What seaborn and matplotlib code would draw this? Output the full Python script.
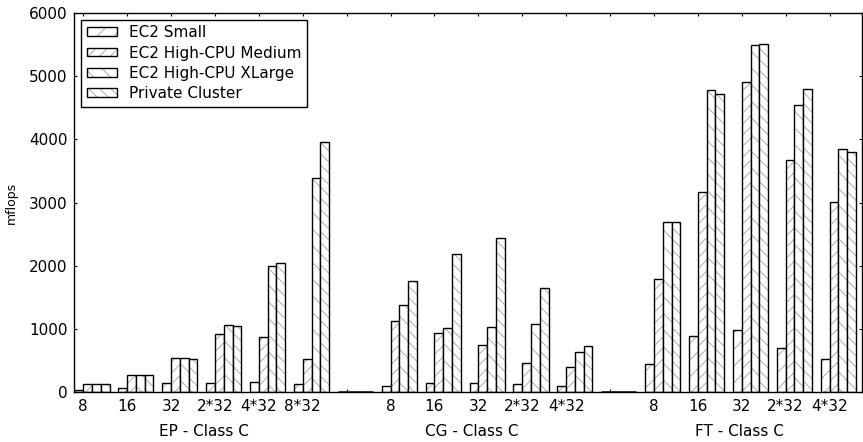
import pandas as pd
import matplotlib
matplotlib.use("Agg")
import matplotlib.pyplot as plt
import matplotlib.colors as mcolors
import matplotlib.transforms as mtransforms
import seaborn as sns

platforms = ["EC2 Small", "EC2 High-CPU Medium", "EC2 High-CPU XLarge", "Private Cluster"]
hatches = ["//", "///", "\\\\", "\\\\\\"]
benchmarks = ["EP - Class C", "CG - Class C", "FT - Class C"]

procs_ep = ["8", "16", "32", "2*32", "4*32", "8*32"]
procs_cg = ["8", "16", "32", "2*32", "4*32"]
procs_ft = ["8", "16", "32", "2*32", "4*32"]

# mflops per platform
small_ep = [30, 69, 142, 142, 164, 132]
medium_ep = [132, 274, 544, 918, 871, 528]
xlarge_ep = [132, 264, 538, 1055, 2000, 3381]
private_ep = [132, 264, 528, 1050, 2047, 3961]

small_cg = [90, 142, 137, 121, 100]
medium_cg = [1119, 939, 739, 454, 401]
xlarge_cg = [1377, 1013, 1029, 1076, 633]
private_cg = [1757, 2179, 2443, 1641, 733]

small_ft = [449, 881, 976, 702, 528]
medium_ft = [1789, 3172, 4913, 3673, 3013]
xlarge_ft = [2686, 4786, 5493, 4549, 3847]
private_ft = [2686, 4718, 5515, 4802, 3799]

groups = [
    ("EP", procs_ep, [small_ep, medium_ep, xlarge_ep, private_ep]),
    ("CG", procs_cg, [small_cg, medium_cg, xlarge_cg, private_cg]),
    ("FT", procs_ft, [small_ft, medium_ft, xlarge_ft, private_ft]),
]

rows = []
order = []
ticklabels = []
for gi, (name, procs, series) in enumerate(groups):
    for pi, p in enumerate(procs):
        key = f"{name} {p}"
        order.append(key)
        ticklabels.append(p)
        for plat, vals in zip(platforms, series):
            rows.append({"cfg": key, "platform": plat, "mflops": vals[pi]})
    if gi < len(groups) - 1:
        # empty slot between benchmarks
        key = f"gap {gi}"
        order.append(key)
        ticklabels.append("")
        for plat in platforms:
            rows.append({"cfg": key, "platform": plat, "mflops": 0})
df = pd.DataFrame(rows)

plt.rcParams["font.family"] = ["DejaVu Sans"]
plt.rcParams["hatch.linewidth"] = 0.7
plt.rcParams["hatch.color"] = "0.68"

fig = plt.figure(figsize=(8.63, 4.42), dpi=100)
ax = fig.add_axes([0.0863, 0.1131, 0.9994 - 0.0863, 0.9706 - 0.1131])

sns.barplot(data=df, x="cfg", y="mflops", hue="platform", order=order,
            hue_order=platforms, palette=["white"] * 4, saturation=1,
            edgecolor="black", linewidth=1, width=0.8, errorbar=None,
            legend=False, ax=ax)

grey = mcolors.to_rgba("0.68")
for cont, h in zip(ax.containers, hatches):
    for bar in cont:
        bar.set_hatch(h)
        if hasattr(bar, "set_hatchcolor"):
            bar.set_hatchcolor(grey)
        else:
            bar._hatch_color = grey
        if bar.get_height() == 0:
            bar.set_linewidth(1.8)

ax.set_xlim(-0.4, 17.55)
ax.set_ylim(0, 6000)
ax.set_yticks(range(0, 6001, 1000))
ax.set_xticks([i - 0.2 for i in range(len(order))])
ax.set_xticklabels(ticklabels, fontsize=11)
ax.tick_params(axis="y", labelsize=11)
ax.tick_params(direction="in", top=True, right=True, length=2.5, width=0.8,
               pad=5, color="black")
ax.set_xlabel("")
ax.set_ylabel("mflops", fontsize=9, labelpad=8)
for s in ax.spines.values():
    s.set_linewidth(1)
    s.set_color("black")

trans = mtransforms.blended_transform_factory(ax.transData, ax.transAxes)
for x, label in zip([2.55, 8.64, 14.75], benchmarks):
    ax.text(x, -0.103, label, transform=trans, ha="center", va="center",
            fontsize=11)

leg = ax.legend(ax.containers, platforms, loc="upper left", fontsize=11,
                frameon=True, fancybox=False, edgecolor="black",
                framealpha=1, handlelength=2.0, handleheight=0.5,
                handletextpad=0.8, labelspacing=0.35, borderpad=0.35,
                borderaxespad=0.45)
leg.get_frame().set_linewidth(1)
for hnd in leg.legend_handles:
    hnd.set_linewidth(1)
    if hasattr(hnd, "set_hatchcolor"):
        hnd.set_hatchcolor(grey)
    else:
        hnd._hatch_color = grey

fig.savefig("out.png", dpi=100)
